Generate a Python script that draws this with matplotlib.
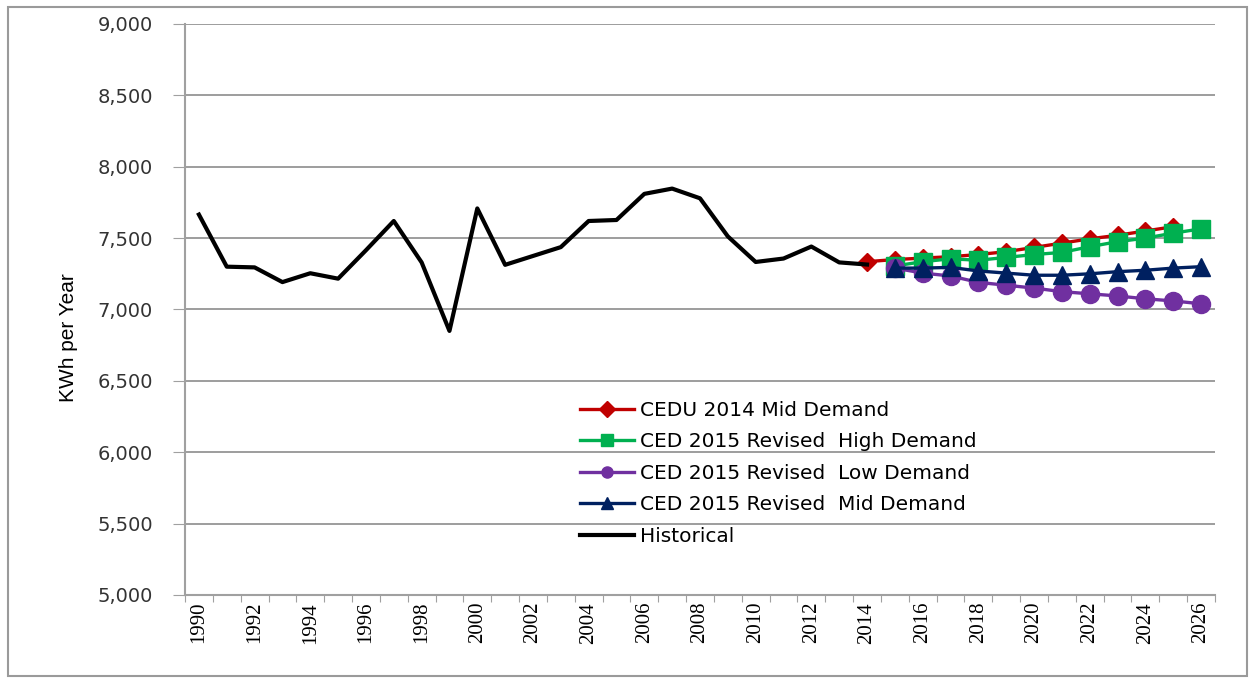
import matplotlib
matplotlib.use("Agg")
import matplotlib.pyplot as plt
from matplotlib.patches import Rectangle
import numpy as np

years = list(range(1990, 2027))
hist_years = list(range(1990, 2015))
historical = [7665, 7300, 7295, 7192, 7254, 7216, 7415, 7620, 7330, 6850,
              7708, 7313, 7375, 7437, 7620, 7627, 7810, 7847, 7779, 7512,
              7333, 7357, 7441, 7330, 7315]
cedu_years = list(range(2014, 2026))
cedu_mid = [7335, 7350, 7360, 7370, 7385, 7405, 7435, 7465, 7495, 7520, 7550, 7580]
ced_years = list(range(2015, 2027))
ced_high = [7305, 7335, 7355, 7345, 7365, 7385, 7400, 7440, 7475, 7500, 7535, 7565]
ced_low = [7290, 7255, 7235, 7190, 7170, 7150, 7125, 7110, 7095, 7075, 7060, 7040]
ced_mid = [7290, 7290, 7295, 7270, 7255, 7240, 7240, 7250, 7265, 7275, 7290, 7300]

labels = ["CEDU 2014 Mid Demand", "CED 2015 Revised  High Demand",
          "CED 2015 Revised  Low Demand", "CED 2015 Revised  Mid Demand", "Historical"]

W, H = 1255, 683
fig = plt.figure(figsize=(W / 100, H / 100), dpi=100)
ax = fig.add_axes([185 / W, 1 - 595 / H, (1215 - 185) / W, (595 - 24) / H])

def xi(ys):
    return [years.index(y) for y in ys]

ax.plot(xi(cedu_years), cedu_mid, color="#C00000", lw=2.4, marker="D", ms=9,
        label=labels[0], zorder=3)
ax.plot(xi(ced_years), ced_high, color="#00B050", lw=2.4, marker="s", ms=13,
        label=labels[1], zorder=3)
ax.plot(xi(ced_years), ced_low, color="#7030A0", lw=2.4, marker="o", ms=13,
        label=labels[2], zorder=3)
ax.plot(xi(ced_years), ced_mid, color="#002060", lw=2.4, marker="^", ms=13,
        label=labels[3], zorder=3)
ax.plot(xi(hist_years), historical, color="black", lw=3, label=labels[4], zorder=4)

ax.set_xlim(-0.5, len(years) - 0.5)
ax.set_ylim(5000, 9000)
ax.set_yticks(np.arange(5000, 9001, 500))
ax.set_yticklabels([f"{v:,}" for v in range(5000, 9001, 500)],
                   fontsize=14, family="DejaVu Sans", color="#333333")
ax.yaxis.grid(True, color="#8C8C8C", lw=1.2)
ax.set_axisbelow(True)

# category ticks at boundaries, labels every other category
ax.set_xticks(np.arange(-0.5, len(years), 1.0))
ax.set_xticklabels([])
ax.set_xticks(np.arange(0, len(years), 2), minor=True)
ax.set_xticklabels([str(y) for y in years[::2]], minor=True, rotation=90,
                   fontsize=15, family=["Liberation Serif", "DejaVu Serif"])
ax.tick_params(axis="x", which="minor", length=0, pad=5)
ax.tick_params(axis="x", which="major", length=5, color="#A0A0A0", direction="out")
ax.tick_params(axis="y", length=9, color="#A0A0A0", direction="out", pad=14)

for s in ["top", "right"]:
    ax.spines[s].set_visible(False)
for s in ["left", "bottom"]:
    ax.spines[s].set_color("#A0A0A0")
    ax.spines[s].set_linewidth(1.5)

fig.text(68 / W, 1 - 338 / H, "KWh per Year", rotation=90, va="center", ha="center",
         fontsize=15, family=["Liberation Sans Narrow", "Liberation Sans", "DejaVu Sans"])

leg = ax.legend(loc="upper left", bbox_to_anchor=(580 / W, 1 - 401 / H),
                bbox_transform=fig.transFigure, frameon=False, borderpad=0,
                borderaxespad=0, handlelength=2.7, handletextpad=0.3,
                labelspacing=0.62, prop={"family": "DejaVu Sans", "size": 14.5})
for h in leg.legend_handles:
    h.set_markersize(8)

fig.patches.append(Rectangle((8 / W, 1 - 676 / H), (1247 - 8) / W, (676 - 7) / H,
                             transform=fig.transFigure, fill=False,
                             edgecolor="#9A9A9A", lw=1.5))

fig.savefig("out.png", dpi=100)
